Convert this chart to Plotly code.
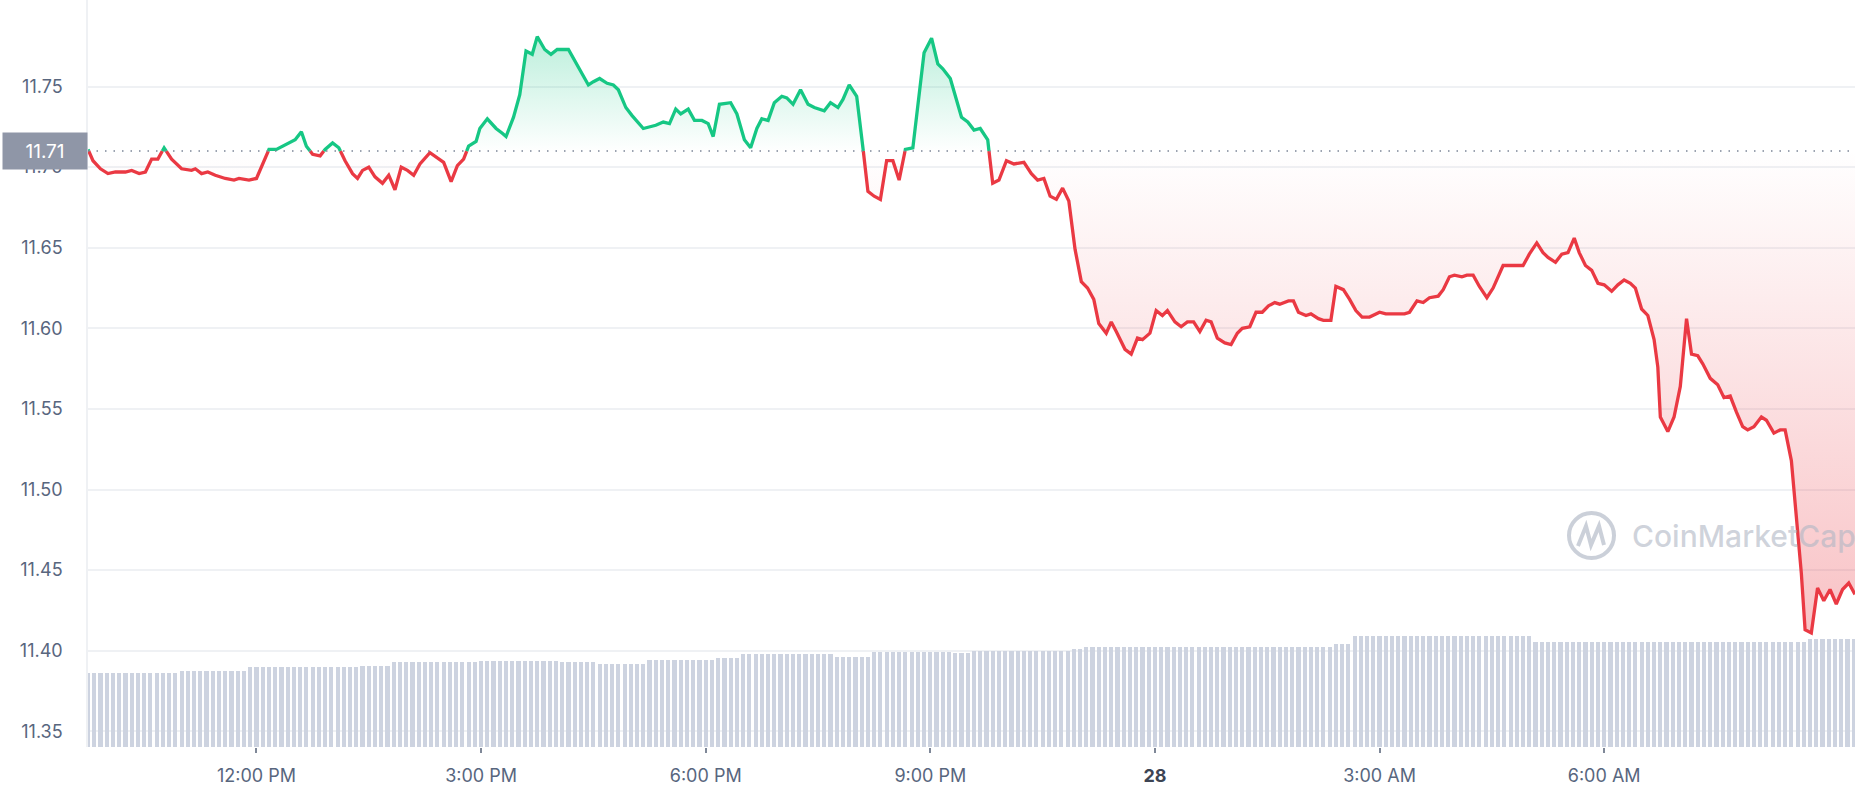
import pandas as pd
import plotly.graph_objects as go

# ---------------- data ----------------
START = "2023-06-27 09:45"
BASELINE = 11.71  # reference (open) price shown with dotted line

# minutes after START
minutes = [
    0, 4, 10, 16, 22, 30, 35, 41, 46, 51, 56, 61, 67, 75, 83, 86, 91, 96, 102, 110,
    117, 121, 129, 135, 139, 145, 151, 159, 166, 171, 175, 180, 186, 190, 196, 201, 206, 212, 216, 220,
    225, 230, 236, 241, 246, 251, 256, 261, 266, 274, 280, 285, 291, 296, 301, 305, 311, 314, 320, 327,
    332, 335, 341, 346, 351, 356, 360, 366, 371, 376, 385, 392, 401, 405, 410, 416, 421, 425, 431, 436,
    445, 455, 461, 466, 471, 475, 481, 486, 492, 497, 501, 506, 515, 520, 526, 531, 536, 540, 545, 550,
    556, 560, 565, 571, 577, 582, 590, 595, 601, 605, 610, 616, 621, 625, 630, 635, 640, 645, 650, 655,
    661, 670, 676, 681, 685, 691, 700, 705, 710, 715, 721, 722, 725, 730, 736, 742, 750, 756, 761, 766,
    771, 776, 781, 786, 791, 796, 801, 806, 810, 816, 820, 824, 831, 836, 841, 845, 851, 856, 861, 865,
    871, 876, 881, 886, 891, 896, 900, 905, 911, 916, 921, 925, 931, 936, 941, 946, 951, 955, 962, 966,
    970, 976, 980, 986, 990, 996, 1000, 1006, 1011, 1016, 1021, 1027, 1035, 1040, 1048, 1055, 1059, 1065, 1070, 1075,
    1082, 1086, 1091, 1095, 1101, 1105, 1110, 1115, 1121, 1126, 1134, 1139, 1150, 1155, 1161, 1166, 1170, 1176, 1181, 1186,
    1191, 1195, 1200, 1205, 1210, 1215, 1221, 1226, 1231, 1236, 1240, 1245, 1250, 1255, 1258, 1260, 1266, 1271, 1276, 1281,
    1285, 1290, 1294, 1300, 1306, 1311, 1316, 1321, 1326, 1330, 1335, 1341, 1345, 1351, 1356, 1360, 1365, 1369, 1373, 1376,
    1381, 1386, 1391, 1396, 1401, 1406, 1411, 1416,
]

prices = [
    11.711, 11.704, 11.699, 11.696, 11.697, 11.697, 11.698, 11.696, 11.697, 11.705, 11.705, 11.712, 11.705, 11.699, 11.698, 11.699, 11.696, 11.697, 11.695, 11.693,
    11.692, 11.693, 11.692, 11.693, 11.700, 11.711, 11.711, 11.714, 11.717, 11.722, 11.713, 11.708, 11.707, 11.711, 11.715, 11.712, 11.704, 11.696, 11.693, 11.698,
    11.700, 11.694, 11.690, 11.695, 11.686, 11.700, 11.698, 11.695, 11.702, 11.709, 11.706, 11.703, 11.691, 11.701, 11.705, 11.713, 11.716, 11.724, 11.730, 11.724,
    11.721, 11.719, 11.731, 11.745, 11.772, 11.770, 11.781, 11.773, 11.770, 11.773, 11.773, 11.763, 11.751, 11.753, 11.755, 11.752, 11.751, 11.748, 11.737, 11.732,
    11.724, 11.726, 11.728, 11.727, 11.736, 11.733, 11.736, 11.729, 11.729, 11.727, 11.719, 11.739, 11.740, 11.733, 11.717, 11.712, 11.724, 11.730, 11.729, 11.740,
    11.744, 11.743, 11.739, 11.748, 11.739, 11.737, 11.735, 11.740, 11.737, 11.742, 11.751, 11.744, 11.712, 11.685, 11.682, 11.680, 11.704, 11.704, 11.692, 11.711,
    11.712, 11.771, 11.780, 11.764, 11.761, 11.755, 11.731, 11.728, 11.723, 11.724, 11.717, 11.710, 11.690, 11.692, 11.704, 11.702, 11.703, 11.696, 11.692, 11.693,
    11.682, 11.680, 11.687, 11.679, 11.649, 11.629, 11.625, 11.618, 11.603, 11.597, 11.604, 11.598, 11.587, 11.584, 11.594, 11.593, 11.597, 11.611, 11.608, 11.611,
    11.604, 11.601, 11.604, 11.604, 11.598, 11.605, 11.604, 11.594, 11.591, 11.590, 11.597, 11.600, 11.601, 11.610, 11.610, 11.614, 11.616, 11.615, 11.617, 11.617,
    11.610, 11.608, 11.609, 11.606, 11.605, 11.605, 11.626, 11.624, 11.618, 11.611, 11.607, 11.607, 11.610, 11.609, 11.609, 11.609, 11.610, 11.617, 11.616, 11.619,
    11.620, 11.624, 11.632, 11.633, 11.632, 11.633, 11.633, 11.626, 11.619, 11.625, 11.639, 11.639, 11.639, 11.646, 11.653, 11.647, 11.644, 11.641, 11.646, 11.647,
    11.656, 11.647, 11.639, 11.636, 11.628, 11.627, 11.623, 11.627, 11.630, 11.628, 11.625, 11.612, 11.608, 11.593, 11.576, 11.545, 11.536, 11.545, 11.564, 11.606,
    11.584, 11.583, 11.578, 11.569, 11.565, 11.557, 11.558, 11.548, 11.539, 11.537, 11.539, 11.545, 11.543, 11.535, 11.537, 11.537, 11.518, 11.483, 11.448, 11.413,
    11.411, 11.439, 11.431, 11.438, 11.429, 11.438, 11.442, 11.435,
]

# volume bars (5-minute bars, relative units)
volume = [
    74, 74, 74, 74, 74, 74, 74, 74, 74, 74, 74, 74, 74, 74, 74,
    76, 76, 76, 76, 76, 76, 76, 76, 76, 76, 76,
    80, 80, 80, 80, 80, 80, 80, 80, 80, 80, 80, 80, 80, 80, 80, 80, 80, 80,
    81, 81, 81, 81, 81,
    85, 85, 85, 85, 85, 85, 85, 85, 85, 85, 85, 85, 85, 85,
    86, 86, 86, 86, 86, 86, 86, 86, 86, 86, 86, 86, 86,
    85, 85, 85, 85, 85, 85,
    83, 83, 83, 83, 83, 83, 83, 83,
    87, 87, 87, 87, 87, 87, 87, 87, 87, 87, 87,
    89, 89, 89, 89,
    93, 93, 93, 93, 93, 93, 93, 93, 93, 93, 93, 93, 93, 93, 93,
    90, 90, 90, 90, 90, 90,
    95, 95, 95, 95, 95, 95, 95, 95, 95, 95, 95, 95, 95,
    94, 94, 94,
    96, 96, 96, 96, 96, 96, 96, 96, 96, 96, 96, 96, 96, 96, 96, 96,
    98, 98,
    100, 100, 100, 100, 100, 100, 100, 100, 100, 100,
    100, 100, 100, 100, 100, 100, 100, 100, 100, 100,
    100, 100, 100, 100, 100, 100, 100, 100, 100, 100,
    100, 100, 100, 100, 100, 100, 100, 100, 100, 100,
    103, 103, 103,
    111, 111, 111, 111, 111, 111, 111, 111, 111, 111,
    111, 111, 111, 111, 111, 111, 111, 111, 111, 111,
    111, 111, 111, 111, 111, 111, 111, 111, 111,
    105, 105, 105, 105, 105, 105, 105, 105, 105, 105, 105,
    105, 105, 105, 105, 105, 105, 105, 105, 105, 105, 105,
    105, 105, 105, 105, 105, 105, 105, 105, 105, 105, 105,
    105, 105, 105, 105, 105, 105, 105, 105, 105, 105, 105,
    108, 108, 108, 108, 108, 108, 108, 108,
]

tick_times = ["2023-06-27 12:00", "2023-06-27 15:00", "2023-06-27 18:00", "2023-06-27 21:00",
              "2023-06-28 00:00", "2023-06-28 03:00", "2023-06-28 06:00"]
tick_labels = ["12:00 PM", "3:00 PM", "6:00 PM", "9:00 PM",
               "<b><span style='color:#3d4454'>28</span></b>", "3:00 AM", "6:00 AM"]
price_ticks = [11.35, 11.40, 11.45, 11.50, 11.55, 11.60, 11.65, 11.70, 11.75]

# ---------------- styling ----------------
GREEN = "#16C784"
RED = "#EA3943"
GRID = "#EFF1F4"
TXT = "#58667E"
FONT = "Inter, 'Open Sans', sans-serif"

start = pd.Timestamp(START)
times = [start + pd.Timedelta(minutes=m) for m in minutes]
bar_times = [start + pd.Timedelta(minutes=5 * i) for i in range(len(volume))]

# insert baseline crossings so green/red segments meet exactly on the baseline
aug_t, aug_p = [], []
for i, (t, p) in enumerate(zip(times, prices)):
    if i > 0:
        p0 = prices[i - 1]
        if (p0 - BASELINE) * (p - BASELINE) < 0:
            f = (BASELINE - p0) / (p - p0)
            aug_t.append(times[i - 1] + (t - times[i - 1]) * f)
            aug_p.append(BASELINE)
    aug_t.append(t)
    aug_p.append(p)

up_line = [p if p >= BASELINE else None for p in aug_p]
dn_line = [p if p <= BASELINE else None for p in aug_p]
up_fill = [max(p, BASELINE) for p in aug_p]
dn_fill = [min(p, BASELINE) for p in aug_p]
base = [BASELINE] * len(aug_p)

fig = go.Figure()

# volume bars (primary hidden axis)
fig.add_trace(go.Bar(x=bar_times, y=volume, marker_color="#CDD3E0", marker_line_width=0,
                     width=200000, yaxis="y", hoverinfo="skip", showlegend=False))

# green fill
fig.add_trace(go.Scatter(x=aug_t, y=base, mode="lines", line=dict(width=0), yaxis="y2",
                         hoverinfo="skip", showlegend=False))
fig.add_trace(go.Scatter(x=aug_t, y=up_fill, mode="lines", line=dict(width=0), yaxis="y2",
                         fill="tonexty",
                         fillgradient=dict(type="vertical", start=BASELINE, stop=11.785,
                                           colorscale=[[0, "rgba(22,199,132,0.0)"],
                                                       [1, "rgba(22,199,132,0.30)"]]),
                         hoverinfo="skip", showlegend=False))
# red fill
fig.add_trace(go.Scatter(x=aug_t, y=base, mode="lines", line=dict(width=0), yaxis="y2",
                         hoverinfo="skip", showlegend=False))
fig.add_trace(go.Scatter(x=aug_t, y=dn_fill, mode="lines", line=dict(width=0), yaxis="y2",
                         fill="tonexty",
                         fillgradient=dict(type="vertical", start=11.40, stop=BASELINE,
                                           colorscale=[[0, "rgba(234,57,67,0.32)"],
                                                       [1, "rgba(234,57,67,0.0)"]]),
                         hoverinfo="skip", showlegend=False))
# price lines
fig.add_trace(go.Scatter(x=aug_t, y=dn_line, mode="lines", yaxis="y2",
                         line=dict(color=RED, width=3.3), connectgaps=False,
                         hoverinfo="skip", showlegend=False))
fig.add_trace(go.Scatter(x=aug_t, y=up_line, mode="lines", yaxis="y2",
                         line=dict(color=GREEN, width=3.3), connectgaps=False,
                         hoverinfo="skip", showlegend=False))

W, H = 1858, 800
ML, MR, MT, MB = 88, 3, 0, 53
PW, PH = W - ML - MR, H - MT - MB


def px(xp):
    return (xp - ML) / PW


def py(yp):
    return (H - MB - yp) / PH


fig.update_layout(
    width=W, height=H,
    margin=dict(l=ML, r=MR, t=MT, b=MB),
    paper_bgcolor="white", plot_bgcolor="white",
    font=dict(family=FONT, color=TXT),
    bargap=0,
    hovermode=False,
    xaxis=dict(
        type="date", range=[times[0], times[-1]],
        tickvals=tick_times, ticktext=tick_labels,
        showgrid=False, zeroline=False, showline=False,
        ticks="outside", ticklen=5, tickwidth=1.5, tickcolor="#7F8898",
        tickfont=dict(size=18, color=TXT), ticklabelstandoff=7,
    ),
    yaxis=dict(range=[0, PH], visible=False, fixedrange=True),
    yaxis2=dict(
        overlaying="y", side="left",
        range=[11.3403, 11.8037],
        tickvals=price_ticks, ticktext=[f"{v:.2f}" for v in price_ticks],
        showgrid=True, gridcolor=GRID, gridwidth=1.5,
        zeroline=False, showline=True, linecolor=GRID, linewidth=1.5,
        ticks="", tickfont=dict(size=18, color=TXT), ticklabelstandoff=20,
    ),
    shapes=[
        dict(type="line", xref="paper", x0=0, x1=1, yref="y2", y0=BASELINE, y1=BASELINE,
             line=dict(color="#7C8597", width=1.6, dash="1.5px,7px")),
        # watermark logo
        dict(type="circle", xref="paper", yref="paper",
             x0=px(1569), x1=px(1614), y0=py(558), y1=py(513),
             line=dict(color="rgba(190,196,208,0.8)", width=4), layer="below"),
        dict(type="path", xref="paper", yref="paper", layer="below",
             path=(f"M {px(1578)},{py(546)} L {px(1586)},{py(526)} L {px(1591)},{py(545)} "
                   f"L {px(1599)},{py(526)} L {px(1604)},{py(545)}"),
             line=dict(color="rgba(190,196,208,0.8)", width=4)),
    ],
    annotations=[
        dict(xref="paper", x=0, xanchor="right", yref="y2", y=BASELINE, yanchor="middle",
             text="11.71", showarrow=False, bgcolor="#8F96A7", width=84, height=36,
             borderpad=0, font=dict(size=19, color="white", family=FONT)),
        dict(xref="paper", x=px(1630), xanchor="left", yref="paper", y=py(536), yanchor="middle",
             text="CoinMarketCap", showarrow=False,
             font=dict(size=30, color="rgba(175,182,196,0.6)", family=FONT, weight=500)),
    ],
)

fig.write_html("out.html", config={"displayModeBar": False},
               post_script="document.body.style.margin='0px';")
